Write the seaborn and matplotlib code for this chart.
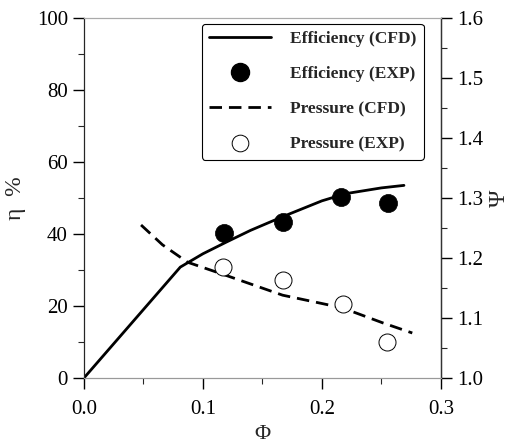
import matplotlib
matplotlib.use("Agg")
import matplotlib.pyplot as plt
from matplotlib.lines import Line2D
import pandas as pd
import seaborn as sns

# Efficiency (left axis, %)
phi_eff_cfd = [0.0, 0.081, 0.10, 0.12, 0.14, 0.167, 0.20, 0.22, 0.25, 0.269]
eta_cfd = [0.0, 30.8, 34.5, 37.8, 41.0, 44.8, 49.2, 51.2, 52.8, 53.5]
phi_eff_exp = [0.118, 0.167, 0.216, 0.256]
eta_exp = [40.3, 43.2, 50.3, 48.7]

# Pressure coefficient (right axis)
phi_pr_cfd = [0.048, 0.066, 0.087, 0.118, 0.167, 0.217, 0.251, 0.276]
psi_cfd = [1.255, 1.222, 1.193, 1.172, 1.138, 1.117, 1.092, 1.075]
phi_pr_exp = [0.117, 0.167, 0.218, 0.255]
psi_exp = [1.185, 1.163, 1.123, 1.060]

sns.set_style("ticks")
plt.rcParams["font.family"] = ["Liberation Serif", "DejaVu Serif"]

fig = plt.figure(figsize=(5.15, 4.45), dpi=100)
ax = fig.add_axes([0.163, 0.1506, 0.693, 0.809])
ax2 = ax.twinx()

eff_cfd = pd.DataFrame({"phi": phi_eff_cfd, "eta": eta_cfd})
eff_exp = pd.DataFrame({"phi": phi_eff_exp, "eta": eta_exp})
pr_cfd = pd.DataFrame({"phi": phi_pr_cfd, "psi": psi_cfd})
pr_exp = pd.DataFrame({"phi": phi_pr_exp, "psi": psi_exp})

sns.lineplot(data=eff_cfd, x="phi", y="eta", ax=ax, color="black", lw=2.0,
             sort=False, estimator=None)
sns.scatterplot(data=eff_exp, x="phi", y="eta", ax=ax, color="black", s=170,
                edgecolor="black", linewidth=0.5, zorder=5)
sns.lineplot(data=pr_cfd, x="phi", y="psi", ax=ax2, color="black", lw=2.0,
             sort=False, estimator=None)
ax2.lines[-1].set_dashes((4.5, 2.5))
sns.scatterplot(data=pr_exp, x="phi", y="psi", ax=ax2, facecolor="white",
                edgecolor="black", s=150, linewidth=0.7, zorder=5)

ax.set_xlim(0, 0.3)
ax.set_ylim(0, 100)
ax2.set_ylim(1.0, 1.6)
ax.set_xticks([0.0, 0.1, 0.2, 0.3])
ax.set_xticklabels(["0.0", "0.1", "0.2", "0.3"])
ax.set_xticks([0.05, 0.15, 0.25], minor=True)
ax.set_yticks([0, 20, 40, 60, 80, 100])
ax.set_yticks([10, 30, 50, 70, 90], minor=True)
ax2.set_yticks([1.0, 1.1, 1.2, 1.3, 1.4, 1.5, 1.6])
ax2.set_yticks([1.05, 1.15, 1.25, 1.35, 1.45, 1.55], minor=True)

for a in (ax, ax2):
    a.tick_params(which="major", direction="out", length=8, width=1.0,
                  labelsize=15, colors="black")
    a.tick_params(which="minor", direction="out", length=4, width=0.8)
ax.tick_params(axis="x", pad=8)

ax.set_xlabel("Φ", fontsize=16, labelpad=4)
ax.set_ylabel("η  %", fontsize=17, labelpad=8)
ax2.set_ylabel("Ψ", fontsize=17, labelpad=4)

ax.spines["left"].set_color("black")
ax.spines["bottom"].set_color("#999999")
ax.spines["top"].set_color("#aaaaaa")
ax2.spines["top"].set_color("#aaaaaa")
ax2.spines["bottom"].set_color("#999999")
ax2.spines["right"].set_color("#333333")
ax2.spines["right"].set_linewidth(1.0)

handles = [
    Line2D([], [], color="black", lw=2.0),
    Line2D([], [], ls="", marker="o", ms=13, mfc="black", mec="black"),
    Line2D([], [], color="black", lw=2.0, dashes=(4.5, 2.5)),
    Line2D([], [], ls="", marker="o", ms=12, mfc="white", mec="black", mew=0.7),
]
labels = ["Efficiency (CFD)", "Efficiency (EXP)", "Pressure (CFD)", "Pressure (EXP)"]
leg = ax2.legend(handles, labels, loc="upper right", bbox_to_anchor=(0.976, 1.008),
                 prop={"family": ["Liberation Serif"], "weight": "bold", "size": 12.5},
                 handlelength=3.6, labelspacing=1.1, borderpad=0.4,
                 handletextpad=1.1, frameon=True, fancybox=True, framealpha=1.0)
leg.get_frame().set_edgecolor("black")
leg.get_frame().set_linewidth(0.8)

fig.savefig("out.png", dpi=100)
